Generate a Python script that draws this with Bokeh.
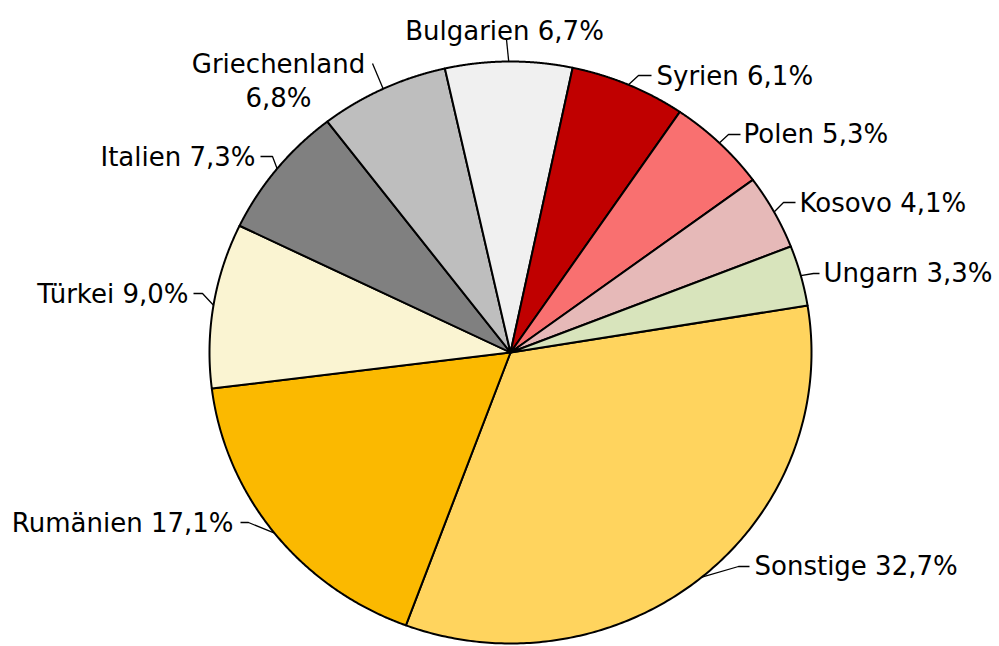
import numpy as np
from bokeh.plotting import figure
from bokeh.models import Range1d, ColumnDataSource
from bokeh.core.properties import value
from bokeh.embed import file_html
from bokeh.resources import INLINE

# ---- data ----
countries = ["Sonstige", "Rumänien", "Türkei", "Italien", "Griechenland",
             "Bulgarien", "Syrien", "Polen", "Kosovo", "Ungarn"]
shares = [32.7, 17.1, 9.0, 7.3, 6.8, 6.7, 6.1, 5.3, 4.1, 3.3]
colors = ["#FFD45E", "#FBB900", "#FAF4D2", "#808080", "#BEBEBE",
          "#F0F0F0", "#C00000", "#F97070", "#E6B9B8", "#D8E4BC"]

# ---- layout (figure pixel coordinates, y downwards) ----
W, H = 999, 646
OFF = 0
cx, cy = 510, 352
rx, ry = 301, 291
start_deg = 9.3

# label layout: (elbow x, elbow y, end x, text x, text baseline y, align)
label_layout = {
    "Sonstige":     (738, 566, 749, 754, 565, "left"),
    "Rumänien":     (248, 522, 240, 233, 522, "right"),
    "Türkei":       (202, 293, 193, 188, 293, "right"),
    "Italien":      (272, 156, 260, 255, 156, "right"),
    "Griechenland": (372, 63, 372, 278, 63, "center"),
    "Bulgarien":    (506, 39, 506, 504, 30, "center"),
    "Syrien":       (638, 75, 651, 656, 75, "left"),
    "Polen":        (728, 134, 740, 743, 133, "left"),
    "Kosovo":       (783, 202, 795, 799, 202, "left"),
    "Ungarn":       (813, 273, 819, 823, 272, "left"),
}

p = figure(width=W, height=H, output_backend="svg", toolbar_location=None,
           x_range=Range1d(0, W), y_range=Range1d(H, 0),
           x_axis_location=None, y_axis_location=None,
           min_border=0, outline_line_color=None)
p.grid.visible = False

total = sum(shares)
angles = np.array(shares) / total * 2 * np.pi
ends = np.deg2rad(start_deg) - np.cumsum(angles)
starts = ends + angles

xs, ys = [], []
for a0, a1 in zip(starts, ends):
    t = np.linspace(a0, a1, 200)
    xs.append(np.concatenate([[cx], cx + rx * np.cos(t)]).tolist())
    ys.append(np.concatenate([[cy], cy - ry * np.sin(t)]).tolist())

p.patches(xs, ys, fill_color=colors, line_color="black", line_width=2,
          line_join="round")

# leader lines and labels
lx, ly = [], []
tx, ty, tt, ta = [], [], [], []
for name, sh, a0, a1 in zip(countries, shares, starts, ends):
    mid = (a0 + a1) / 2
    ex, ey = cx + rx * np.cos(mid), cy - ry * np.sin(mid)
    elx, ely, elx2, txx, tyy, al = label_layout[name]
    lx.append([ex, elx - OFF, elx2 - OFF])
    ly.append([ey, ely - OFF, ely - OFF])
    pct = f"{sh:.1f}".replace(".", ",") + "%"
    if name == "Griechenland":
        tx += [txx - OFF, txx - OFF]
        ty += [tyy - OFF, tyy - OFF + 34]
        tt += [name, pct]
        ta += [al, al]
    else:
        tx.append(txx - OFF)
        ty.append(tyy - OFF)
        tt.append(f"{name} {pct}")
        ta.append(al)

p.multi_line(lx, ly, line_color="black", line_width=1.3)

src = ColumnDataSource(dict(x=tx, y=ty, text=tt, align=ta))
p.text(x="x", y="y", text="text", text_align="align", source=src,
       text_baseline="alphabetic", text_font=value("DejaVu Sans"),
       text_font_size=value("26px"), text_color="black")

open("out.html", "w").write(file_html(p, INLINE))
